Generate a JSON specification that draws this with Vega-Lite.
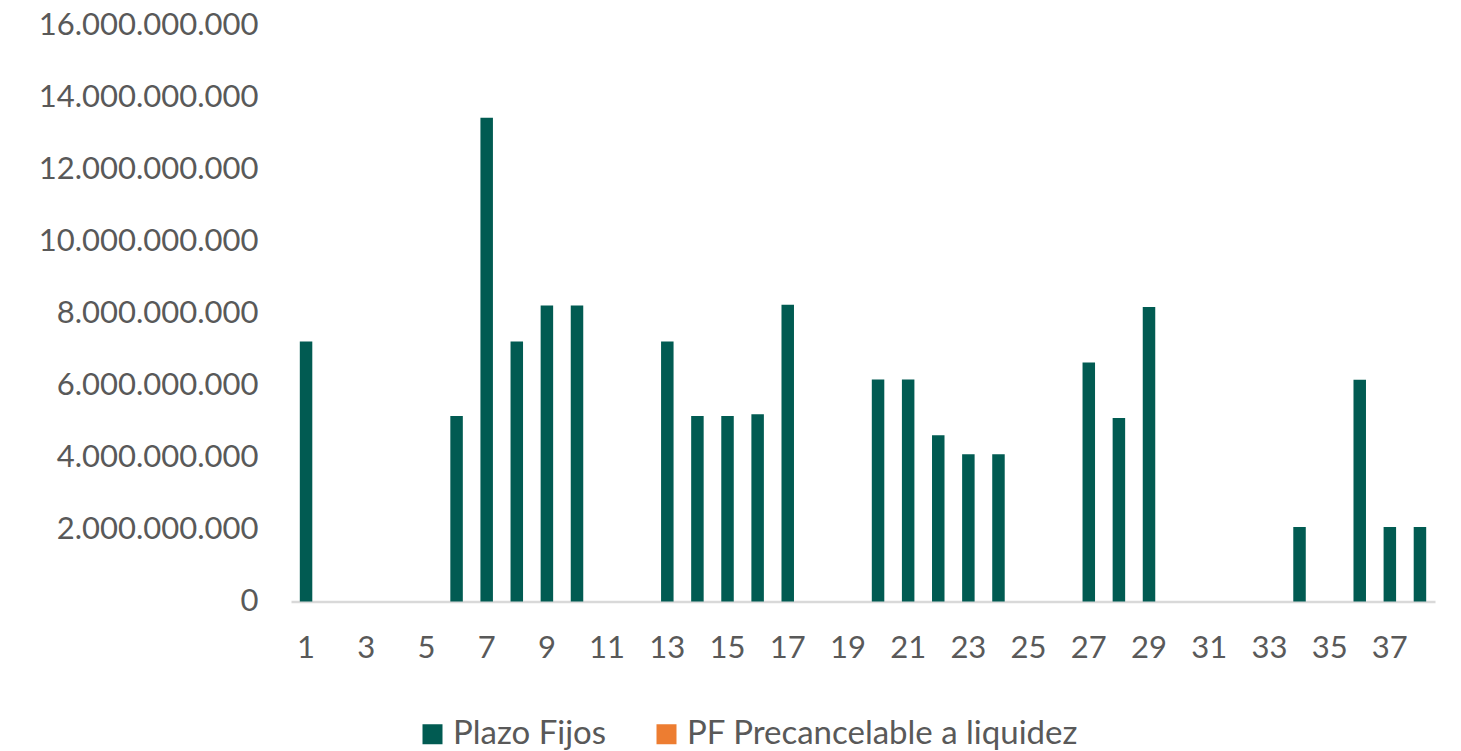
{
  "$schema": "https://vega.github.io/schema/vega-lite/v6.json",
  "width": 1144,
  "height": 576,
  "autosize": {"type": "none"},
  "padding": {"left": 291, "top": 25.5, "right": 26, "bottom": 149.5},
  "background": "#ffffff",
  "config": {
    "view": {"stroke": null},
    "locale": {"number": {"decimal": ",", "thousands": ".", "grouping": [3], "currency": ["", ""]}},
    "font": "Lato"
  },
  "data": {
    "values": [
      {"n": 1, "serie": "Plazo Fijos", "valor": 7220000000},
      {"n": 2, "serie": "Plazo Fijos", "valor": 0},
      {"n": 3, "serie": "Plazo Fijos", "valor": 0},
      {"n": 4, "serie": "Plazo Fijos", "valor": 0},
      {"n": 5, "serie": "Plazo Fijos", "valor": 0},
      {"n": 6, "serie": "Plazo Fijos", "valor": 5150000000},
      {"n": 7, "serie": "Plazo Fijos", "valor": 13440000000},
      {"n": 8, "serie": "Plazo Fijos", "valor": 7220000000},
      {"n": 9, "serie": "Plazo Fijos", "valor": 8220000000},
      {"n": 10, "serie": "Plazo Fijos", "valor": 8220000000},
      {"n": 11, "serie": "Plazo Fijos", "valor": 0},
      {"n": 12, "serie": "Plazo Fijos", "valor": 0},
      {"n": 13, "serie": "Plazo Fijos", "valor": 7220000000},
      {"n": 14, "serie": "Plazo Fijos", "valor": 5150000000},
      {"n": 15, "serie": "Plazo Fijos", "valor": 5150000000},
      {"n": 16, "serie": "Plazo Fijos", "valor": 5200000000},
      {"n": 17, "serie": "Plazo Fijos", "valor": 8240000000},
      {"n": 18, "serie": "Plazo Fijos", "valor": 0},
      {"n": 19, "serie": "Plazo Fijos", "valor": 0},
      {"n": 20, "serie": "Plazo Fijos", "valor": 6170000000},
      {"n": 21, "serie": "Plazo Fijos", "valor": 6170000000},
      {"n": 22, "serie": "Plazo Fijos", "valor": 4620000000},
      {"n": 23, "serie": "Plazo Fijos", "valor": 4090000000},
      {"n": 24, "serie": "Plazo Fijos", "valor": 4090000000},
      {"n": 25, "serie": "Plazo Fijos", "valor": 0},
      {"n": 26, "serie": "Plazo Fijos", "valor": 0},
      {"n": 27, "serie": "Plazo Fijos", "valor": 6640000000},
      {"n": 28, "serie": "Plazo Fijos", "valor": 5100000000},
      {"n": 29, "serie": "Plazo Fijos", "valor": 8180000000},
      {"n": 30, "serie": "Plazo Fijos", "valor": 0},
      {"n": 31, "serie": "Plazo Fijos", "valor": 0},
      {"n": 32, "serie": "Plazo Fijos", "valor": 0},
      {"n": 33, "serie": "Plazo Fijos", "valor": 0},
      {"n": 34, "serie": "Plazo Fijos", "valor": 2070000000},
      {"n": 35, "serie": "Plazo Fijos", "valor": 0},
      {"n": 36, "serie": "Plazo Fijos", "valor": 6160000000},
      {"n": 37, "serie": "Plazo Fijos", "valor": 2070000000},
      {"n": 38, "serie": "Plazo Fijos", "valor": 2070000000}
    ]
  },
  "mark": {"type": "bar"},
  "encoding": {
    "x": {
      "field": "n",
      "type": "ordinal",
      "scale": {"paddingInner": 0.585, "paddingOuter": 0.2925},
      "axis": {
        "title": null,
        "values": [1, 3, 5, 7, 9, 11, 13, 15, 17, 19, 21, 23, 25, 27, 29, 31, 33, 35, 37],
        "labelAngle": 0,
        "ticks": false,
        "labelPadding": 32,
        "labelFontSize": 31,
        "labelColor": "#595959",
        "labelFont": "Lato",
        "domainColor": "#d9d9d9",
        "domainWidth": 2.5,
        "grid": false
      }
    },
    "y": {
      "field": "valor",
      "type": "quantitative",
      "scale": {"domain": [0, 16000000000], "nice": false},
      "axis": {
        "title": null,
        "values": [0, 2000000000, 4000000000, 6000000000, 8000000000, 10000000000, 12000000000, 14000000000, 16000000000],
        "format": ",d",
        "ticks": false,
        "domain": false,
        "grid": false,
        "labelPadding": 33,
        "labelFontSize": 31,
        "labelLimit": 400,
        "labelColor": "#595959",
        "labelFont": "Lato"
      }
    },
    "color": {
      "field": "serie",
      "type": "nominal",
      "scale": {
        "domain": ["Plazo Fijos", "PF Precancelable a liquidez"],
        "range": ["#015B52", "#ED7D31"]
      },
      "legend": {
        "title": null,
        "orient": "none",
        "direction": "horizontal",
        "legendX": 125,
        "legendY": 692,
        "symbolType": "square",
        "symbolSize": 400,
        "symbolStrokeWidth": 0,
        "labelOffset": 4,
        "columnPadding": 43,
        "labelFontSize": 33,
        "labelColor": "#595959",
        "labelFont": "Lato",
        "labelLimit": 600
      }
    }
  }
}
